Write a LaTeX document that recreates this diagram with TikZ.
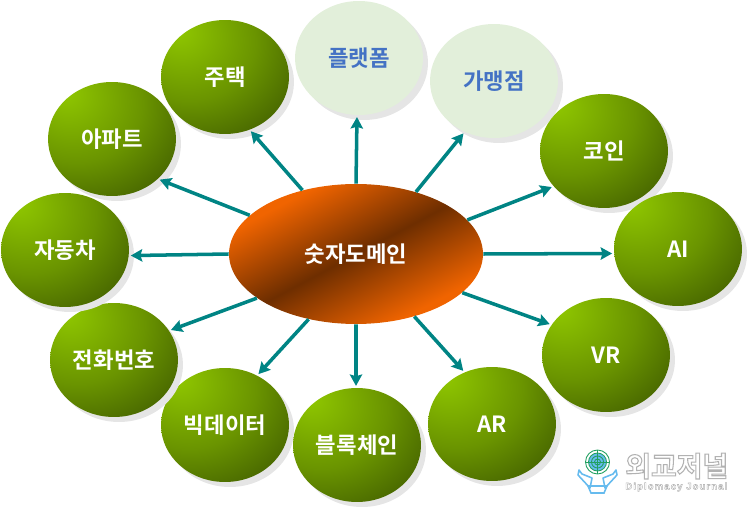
\documentclass[tikz,border=0pt]{standalone}
\usepackage{fontspec}
\setmainfont{Noto Sans CJK KR}[BoldFont={Noto Sans CJK KR Bold}]
\newfontfamily\logofont{Liberation Sans}[LetterSpace=12]
\usetikzlibrary{positioning, arrows, arrows.meta, shapes, shapes.geometric, shadows}
\definecolor{spokegreen}{HTML}{008484}
\definecolor{paleball}{HTML}{E2EFDA}
\definecolor{palelabel}{HTML}{4472C4}
\definecolor{hubfire}{HTML}{F06400}
\definecolor{hubdark}{HTML}{6E2E00}
\definecolor{logoblue}{HTML}{66BBEE}
\definecolor{logogreen}{HTML}{22A060}
\definecolor{ballA}{HTML}{90C800}
\definecolor{ballB}{HTML}{6A9400}
\definecolor{ballC}{HTML}{263A00}
\pgfdeclareradialshading{greenball}{\pgfpoint{-19bp}{21bp}}{%
  color(0bp)=(ballA); color(26bp)=(ballB); color(60bp)=(ballC); color(100bp)=(ballC)}
\pgfdeclareverticalshading{hubshade}{100bp}{%
  color(0bp)=(hubfire); color(28bp)=(hubfire); color(50bp)=(hubdark); color(72bp)=(hubfire); color(100bp)=(hubfire)}
\newcommand{\halotext}[2]{\special{pdf:code 2 Tr #1 w 0.7 G}#2\special{pdf:code 0 Tr}}

\begin{document}
\begin{tikzpicture}[x=0.02cm,y=-0.02cm,font=\bfseries\fontsize{12.7}{15}\selectfont]
    \tikzstyle{ball} = [ellipse, inner sep=0pt, minimum width=2.56cm, minimum height=2.28cm, text=white,
                        drop shadow={shadow xshift=0.1cm, shadow yshift=-0.1cm, fill=black!10, opacity=1}]
    \tikzstyle{greennode} = [ball, shading=greenball]
    \tikzstyle{pale} = [ball, fill=paleball, text=palelabel]
    \tikzstyle{hubnode} = [ellipse, inner sep=0pt, minimum width=5.08cm, minimum height=2.8cm, text=white,
                        shading=hubshade, shading angle=28]
    \tikzstyle{edge} = [-{Stealth[length=6.5pt,width=7pt,inset=1pt]}, line width=2pt, draw=spokegreen, shorten >=1pt]
    \useasboundingbox (0,0) rectangle (750,509);

    \node[hubnode](hub) at (356,254) {숫자도메인};

    \node[greennode](house) at (225,77) {주택};
    \node[pale](platform) at (359,58) {플랫폼};
    \node[pale](franchise) at (494,81) {가맹점};
    \node[greennode](coin) at (604,151) {코인};
    \node[greennode](ai) at (678,249) {AI};
    \node[greennode](vr) at (606,355) {VR};
    \node[greennode](ar) at (492,424) {AR};
    \node[greennode](chain) at (357,445) {블록체인};
    \node[greennode](bigdata) at (225,425) {빅데이터};
    \node[greennode](phone) at (114,360) {전화번호};
    \node[greennode](car) at (65,250) {자동차};
    \node[greennode](apt) at (112,139) {아파트};

    \draw[edge] (hub.130) -- (house.-65);
    \draw[edge] (hub.90) -- (platform.-92);
    \draw[edge] (hub.46) -- (franchise.-120);
    \draw[edge] (hub.17) -- (coin.-145);
    \draw[edge] (hub.0) -- (ai.184);
    \draw[edge] (hub.-20) -- (vr.151);
    \draw[edge] (hub.-47) -- (ar.118);
    \draw[edge] (hub.-90) -- (chain.91);
    \draw[edge] (hub.-126) -- (bigdata.57);
    \draw[edge] (hub.204) -- (phone.28);
    \draw[edge] (hub.180) -- (car.-5);
    \draw[edge] (hub.160) -- (apt.-41);

    % logo
    \fill[logoblue] (597.5,462) circle (9);
    \draw[logogreen, line width=0.5pt] (597.5,462) circle (12);
    \draw[logogreen, line width=0.5pt] (597.5,462) circle (9);
    \draw[logogreen, line width=0.5pt] (597.5,462) circle (6);
    \draw[logogreen, line width=0.5pt] (597.5,462) circle (3);
    \draw[logogreen, line width=0.5pt] (585.5,462) -- (609.5,462) (597.5,450) -- (597.5,474);
    \draw[logoblue, line width=0.9pt, line join=round] (579,470) -- (578,475) -- (590,488) -- (592,478) -- (582,474) -- cycle;
    \draw[logoblue, line width=0.9pt, line join=round] (616,470) -- (617,475) -- (605,488) -- (603,478) -- (613,474) -- cycle;
    \draw[logoblue, line width=0.9pt] (588,486) -- (607,486) -- (604,493) -- (591,493) -- cycle;
    \node[text=white, anchor=west, inner sep=0pt, font=\bfseries\fontsize{15.9}{18}\selectfont](logoname) at (625,466) {\halotext{0.6}{외교저널}};
    \node[text=white, anchor=west, inner sep=0pt, font=\logofont\bfseries\fontsize{5.4}{6}\selectfont](logosub) at (625,487) {\halotext{0.25}{Diplomacy Journal}};
\end{tikzpicture}
\end{document}
